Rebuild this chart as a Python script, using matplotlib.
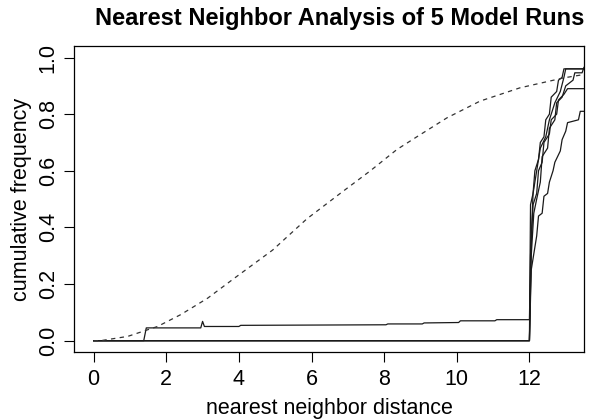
import matplotlib
matplotlib.use("Agg")
import matplotlib.pyplot as plt

plt.rcParams['font.family'] = ['Liberation Sans', 'DejaVu Sans']

# expected (theoretical) nearest neighbour CDF
exp_x = [0.0, 0.2, 0.94, 1.76, 2.4, 3.14, 3.87, 4.93, 5.87, 6.79, 7.62, 8.35, 8.9,
         9.73, 10.64, 11.74, 12.94, 13.5]
exp_y = [0.0, 0.0, 0.015, 0.05, 0.092, 0.15, 0.22, 0.32, 0.43, 0.52, 0.60, 0.675, 0.72,
         0.787, 0.846, 0.893, 0.928, 0.94]

# observed cumulative frequencies for the 5 model runs
run1_x = [0.0, 1.38, 1.45, 2.95, 3.0, 3.05, 4.0, 4.05, 8.05, 8.1, 9.05, 9.1, 10.05, 10.1,
          11.05, 11.1, 12.0, 12.03, 12.1, 12.2, 12.3, 12.45, 12.55, 12.7, 12.85, 12.95, 13.0, 13.5]
run1_y = [0.0, 0.0, 0.045, 0.045, 0.068, 0.05, 0.05, 0.054, 0.056, 0.059, 0.059, 0.0625,
          0.064, 0.07, 0.07, 0.074, 0.074, 0.3, 0.52, 0.6, 0.68, 0.72, 0.78, 0.84, 0.88, 0.93,
          0.96, 0.96]

run2_x = [0.0, 12.0, 12.05, 12.1, 12.2, 12.25, 12.35, 12.4, 12.55, 12.6, 12.75, 12.8, 12.95,
          13.05, 13.5]
run2_y = [0.0, 0.0, 0.35, 0.48, 0.52, 0.6, 0.63, 0.7, 0.73, 0.78, 0.8, 0.85, 0.87, 0.89, 0.89]

run3_x = [0.0, 12.0, 12.03, 12.1, 12.15, 12.25, 12.3, 12.4, 12.45, 12.55, 12.6, 12.75, 12.8,
          12.9, 12.95, 13.5]
run3_y = [0.0, 0.0, 0.48, 0.52, 0.6, 0.64, 0.7, 0.72, 0.78, 0.8, 0.86, 0.88, 0.92, 0.93,
          0.96, 0.96]

run4_x = [0.0, 12.0, 12.05, 12.12, 12.2, 12.3, 12.35, 12.5, 12.55, 12.7, 12.75, 12.9, 13.0,
          13.2, 13.25, 13.45, 13.5]
run4_y = [0.0, 0.0, 0.3, 0.45, 0.5, 0.56, 0.65, 0.68, 0.75, 0.78, 0.84, 0.86, 0.9, 0.92,
          0.946, 0.946, 0.965]

run5_x = [0.0, 12.0, 12.05, 12.15, 12.2, 12.25, 12.35, 12.4, 12.5, 12.55, 12.65, 12.7, 12.85,
          12.9, 13.0, 13.05, 13.35, 13.4, 13.5]
run5_y = [0.0, 0.0, 0.25, 0.33, 0.37, 0.44, 0.45, 0.51, 0.52, 0.56, 0.60, 0.63, 0.67, 0.71,
          0.74, 0.77, 0.78, 0.81, 0.81]

runs = [(run1_x, run1_y), (run2_x, run2_y), (run3_x, run3_y), (run4_x, run4_y), (run5_x, run5_y)]

fig = plt.figure(figsize=(5.94, 4.20), dpi=100)
ax = fig.add_axes([0.1246, 0.162, 0.8584, 0.728])

for xs, ys in runs:
    ax.plot(xs, ys, color='#1a1a1a', lw=0.9)
ax.plot(exp_x, exp_y, color='#333333', lw=0.9, dashes=(3.5, 3.5))

ax.set_xlim(-0.54, 13.5)
ax.set_ylim(-0.04, 1.04)
ax.set_xticks([0, 2, 4, 6, 8, 10, 12])
ax.set_yticks([0.0, 0.2, 0.4, 0.6, 0.8, 1.0])
ax.set_yticklabels(['0.0', '0.2', '0.4', '0.6', '0.8', '1.0'], rotation=90, va='center')
ax.tick_params(direction='out', length=7, width=0.8, labelsize=15.5)
ax.tick_params(axis='x', pad=5)
ax.tick_params(axis='y', pad=4)
for s in ax.spines.values():
    s.set_linewidth(0.9)

ax.set_xlabel('nearest neighbor distance', fontsize=15.5, labelpad=6)
ax.set_ylabel('cumulative frequency', fontsize=15.5, labelpad=4)
ax.set_title('Nearest Neighbor Analysis of 5 Model Runs', fontsize=17,
             fontweight='bold', pad=15, x=0.522)

fig.savefig('out.png', dpi=100)
